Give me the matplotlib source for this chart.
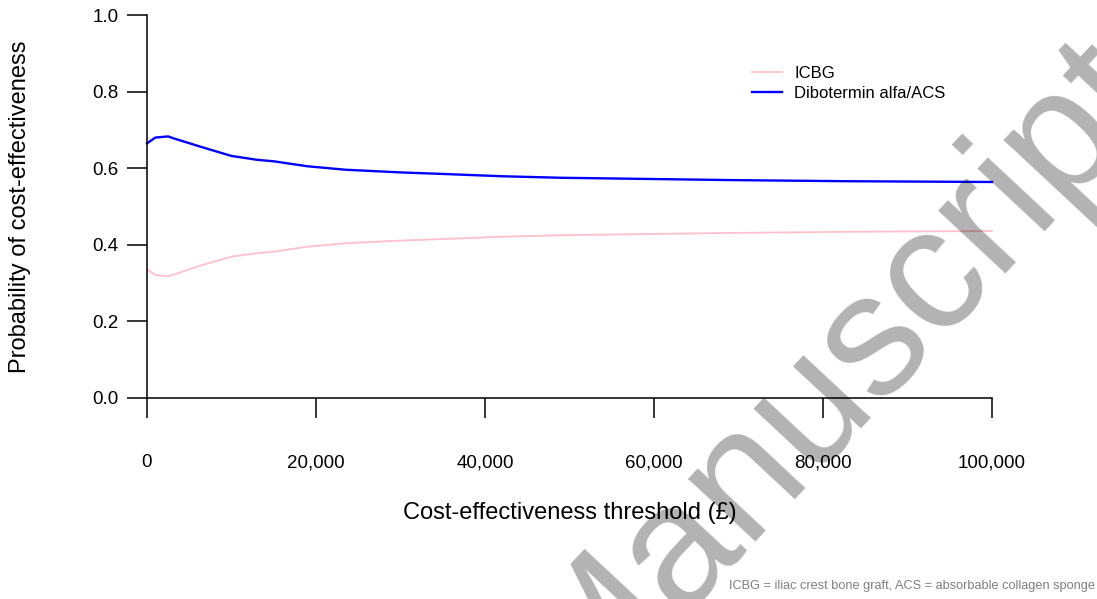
import numpy as np
import matplotlib.pyplot as plt

plt.rcParams['font.family'] = ['Liberation Sans', 'DejaVu Sans']

# cost-effectiveness threshold (GBP)
threshold = [0, 1000, 2500, 3000, 6500, 10000, 13000, 15000, 19000, 23500,
             30000, 35000, 42000, 49000, 59000, 69000, 83000, 100000]
# probability of cost-effectiveness
icbg = [0.336, 0.321, 0.318, 0.321, 0.347, 0.369, 0.378, 0.382, 0.395, 0.404,
        0.411, 0.415, 0.421, 0.425, 0.428, 0.431, 0.434, 0.436]
dibotermin = [0.665, 0.680, 0.683, 0.679, 0.655, 0.632, 0.622, 0.618, 0.605, 0.596,
              0.589, 0.585, 0.579, 0.575, 0.572, 0.569, 0.566, 0.564]
series_names = ['ICBG', 'Dibotermin alfa/ACS']
xticks = [0, 20000, 40000, 60000, 80000, 100000]
yticks = [0.0, 0.2, 0.4, 0.6, 0.8, 1.0]

W, H = 1097, 599
fig = plt.figure(figsize=(W / 100, H / 100), dpi=100)
ax = fig.add_axes([147 / W, 1 - 398 / H, (992 - 147) / W, (398 - 15) / H])

l1, = ax.plot(threshold, icbg, color='pink', lw=1.3, clip_on=False)
l2, = ax.plot(threshold, dibotermin, color='blue', lw=1.7, clip_on=False)

ax.set_xlim(0, 100000)
ax.set_ylim(0, 1)
ax.spines['top'].set_visible(False)
ax.spines['right'].set_visible(False)
for s in ('left', 'bottom'):
    ax.spines[s].set_linewidth(1.1)
ax.set_xticks(xticks)
ax.set_xticklabels(['{:,}'.format(v) for v in xticks])
ax.set_yticks(yticks)
ax.set_yticklabels(['{:.1f}'.format(v) for v in yticks])
ax.tick_params(axis='both', direction='out', length=14.5, width=1.1, labelsize=13.5)
ax.tick_params(axis='x', pad=26)
ax.tick_params(axis='y', pad=6)

fig.text(569.5 / W, 1 - 513 / H, 'Cost-effectiveness threshold (\u00a3)',
         fontsize=17, ha='center', va='center')
fig.text(20 / W, 1 - 206.5 / H, 'Probability of cost-effectiveness',
         fontsize=17, ha='center', va='center', rotation=90)

leg = ax.legend([l1, l2], series_names, loc='upper left',
                bbox_to_anchor=(752 / W, 1 - 66 / H), bbox_transform=fig.transFigure,
                frameon=False, fontsize=12, handlelength=1.8, handletextpad=0.75,
                labelspacing=0.3, borderpad=0, borderaxespad=0)

fig.text(1095 / W, 1 - 586 / H,
         'ICBG = iliac crest bone graft, ACS = absorbable collagen sponge',
         fontsize=9.2, color='#7f7f7f', ha='right', va='center')

# watermark
fig.text(836 / W, 1 - 374 / H, 'Manuscript', fontsize=125, color='black', alpha=0.3,
         rotation=47, rotation_mode='anchor', ha='center', va='center')

fig.savefig('out.png', dpi=100)
